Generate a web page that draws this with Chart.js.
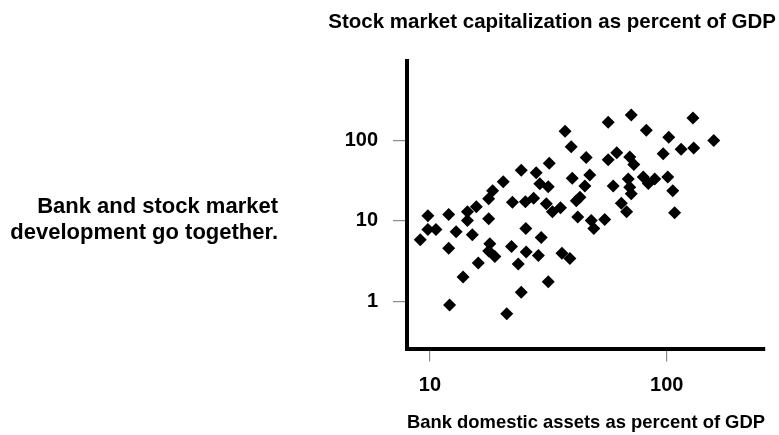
<!DOCTYPE html>
<html>
<head>
<meta charset="utf-8">
<script src="https://cdn.jsdelivr.net/npm/chart.js@4/dist/chart.umd.min.js"></script>
<style>
  html, body { margin: 0; padding: 0; background: #fff; }
  #wrap { position: relative; width: 779px; height: 435px; }
  #chart { position: absolute; left: 0; top: 0; }
  .note {
    position: absolute; left: 0; top: 193px; width: 278px;
    text-align: right; line-height: 23px;
    font: bold 22px "Liberation Sans", Arial, sans-serif; color: #000;
  }
</style>
</head>
<body>
<div id="wrap">
  <canvas id="chart" width="779" height="435"></canvas>
  <div class="note">Bank and stock market<br>development go together.</div>
</div>
<script>
/* ── Data (log–log) ─────────────────────────────────────────────── */
const bankAssets = [
  9.1, 9.8, 9.8, 10.6, 12.0, 12.9, 12.0, 14.4, 15.7, 14.4,
  15.1, 17.7, 17.7, 18.4, 20.4, 24.3, 28.1, 31.9, 29.1, 31.6,
  22.3, 25.3, 27.4, 31.0, 32.9, 35.6, 39.9, 41.5, 43.0, 42.1,
  25.4, 29.5, 17.9, 17.7, 18.8, 22.1, 25.5, 28.7, 23.6, 36.1,
  39.0, 16.0, 13.8, 31.6, 24.3, 12.1, 21.1, 37.2, 56.6, 70.8,
  82.0, 129, 102, 158, 39.5, 115, 130, 96.6, 45.7, 56.6,
  61.5, 69.8, 72.6, 47.3, 45.1, 59.4, 68.8, 69.8, 70.8, 79.6,
  83.6, 89.0, 101, 106, 108, 48.0, 49.2, 54.7, 64.3, 67.7,
];
const stockCap = [
  5.8, 11.5, 7.8, 7.8, 12.0, 7.3, 4.55, 12.9, 14.9, 10.1,
  6.7, 10.6, 18.8, 23.6, 30.5, 42.4, 39.5, 51.8, 28.8, 26.4,
  17.0, 17.2, 19.0, 16.3, 12.9, 14.5, 33.7, 17.7, 19.6, 11.1,
  8.0, 6.2, 5.2, 4.2, 3.6, 4.8, 4.1, 3.7, 2.9, 3.95,
  3.4, 3.0, 2.0, 1.75, 1.3, 0.9, 0.7, 129, 167, 205,
  133, 188, 109, 99, 83, 77, 80, 68, 61, 57,
  70, 62, 50, 37, 27, 27, 33, 26, 21.6, 35,
  29, 33, 35, 23.6, 12.6, 10.1, 8.0, 10.4, 16.5, 12.9,
];
const xTicks = [10, 100];
const yTicks = [1, 10, 100];

const yTitle = 'Stock market capitalization as percent of GDP';
const xTitle = 'Bank domestic assets as percent of GDP';

/* ── Shared styling ─────────────────────────────────────────────── */
const FONT = '"Liberation Sans", Arial, sans-serif';
const INK  = '#000';
const TICK = '#8a8a8a';

const points = bankAssets.map((x, i) => ({ x, y: stockCap[i] }));

new Chart(document.getElementById('chart'), {
  type: 'scatter',
  data: {
    datasets: [{
      data: points,
      pointStyle:      'rectRot',
      pointRadius:     6.5,
      backgroundColor: INK,
      borderWidth:     0,
    }],
  },
  options: {
    responsive: false,
    animation:  false,
    layout: { padding: { left: 0, right: 3, top: 0, bottom: 0 } },
    plugins: {
      legend:  { display: false },
      tooltip: { enabled: false },
      title: {
        display: true,
        text:    yTitle,
        align:   'end',
        color:   INK,
        font:    { family: FONT, size: 20.5, weight: 'bold', lineHeight: 1.2 },
        padding: { top: 10, bottom: 26.4 },
      },
    },
    scales: {
      x: {
        type: 'logarithmic',
        min: 8, max: 260,
        afterBuildTicks: s => { s.ticks = xTicks.map(v => ({ value: v })); },
        afterFit: s => { s.height = 86.5; },
        ticks: {
          color: INK, padding: 11.5, maxRotation: 0, autoSkip: false,
          font: { family: FONT, size: 20, weight: 'bold' },
          callback: v => String(v),
        },
        grid:   { drawOnChartArea: false, drawTicks: true, tickLength: 13, color: TICK, lineWidth: 1.2 },
        border: { display: true, color: INK, width: 4 },
        title: {
          display: true, text: xTitle, align: 'end', color: INK,
          font: { family: FONT, size: 18.5, weight: 'bold', lineHeight: 1.2 },
          padding: { top: 0, bottom: 1 },
        },
      },
      y: {
        type: 'logarithmic',
        min: 0.26, max: 960,
        afterBuildTicks: s => { s.ticks = yTicks.map(v => ({ value: v })); },
        afterFit: s => { s.width = 407; },
        ticks: {
          color: INK, padding: 15, autoSkip: false,
          font: { family: FONT, size: 20, weight: 'bold' },
          callback: v => String(v),
        },
        grid:   { drawOnChartArea: false, drawTicks: true, tickLength: 14, color: TICK, lineWidth: 1.2 },
        border: { display: true, color: INK, width: 4 },
      },
      /* spacer on the right so the title can run past the axis end */
      y2: {
        position: 'right',
        display: true,
        afterFit: s => { s.width = 11; },
        ticks:  { display: false },
        grid:   { display: false },
        border: { display: false },
      },
    },
  },
});
</script>
</body>
</html>
